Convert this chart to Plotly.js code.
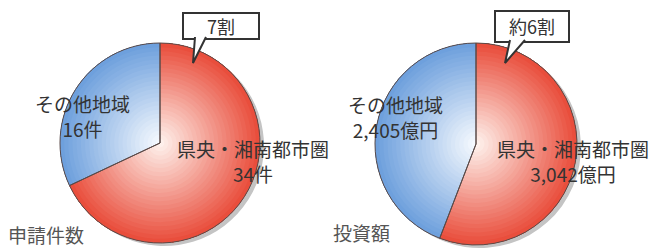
<!DOCTYPE html>
<html><head><meta charset="utf-8">
<script src="https://cdn.plot.ly/plotly-3.0.1.min.js"></script>
<style>html,body{margin:0;padding:0;background:#fff;}#chart{width:655px;height:248px;}</style>
</head><body><div id="chart"></div>
<script>
// ---- data ----
const categories = ['県央・湘南都市圏', 'その他地域'];
const applications = [34, 16];            // 申請件数 (件)
const investment = [3042, 2405];          // 投資額 (億円)
const chartTitles = ['申請件数', '投資額'];
const units = ['件', '億円'];
const callouts = ['7割', '約6割'];

// ---- layout helpers (pixel -> paper) ----
const W = 655, H = 248;
const px = x => x / W;
const py = y => 1 - y / H;
const FONT = '"Noto Sans CJK JP", "Noto Sans", sans-serif';

const pies = [
  {vals: applications, cx: 160, cy: 143, r: 100},
  {vals: investment, cx: 476, cy: 144, r: 101}
];
const redEdge = [233, 78, 60], redCenter = [254, 240, 235];
const blueEdge = [110, 160, 221], blueCenter = [245, 249, 254];
const mix = (a, b, t) => 'rgb(' + a.map((v, i) => Math.round(v + (b[i] - v) * t)).join(',') + ')';

const traces = [];
const N = 24;
pies.forEach(p => {
  const dom = {x: [px(p.cx - p.r), px(p.cx + p.r)], y: [py(p.cy + p.r), py(p.cy - p.r)]};
  const shDom = {x: [px(p.cx - p.r + 4), px(p.cx + p.r + 4)], y: [py(p.cy + p.r + 3), py(p.cy - p.r + 3)]};
  const base = {type: 'pie', labels: categories, values: p.vals, sort: false, direction: 'clockwise',
    rotation: 0, textinfo: 'none', hoverinfo: 'skip', showlegend: false};
  // soft shadow
  traces.push(Object.assign({}, base, {domain: shDom, marker: {colors: ['#c4c4c4', '#c4c4c4'], line: {width: 0}}}));
  // radial gradient approximated by rings
  for (let i = 0; i < N; i++) {
    const s = i / (N - 1);
    const t = Math.pow(s, 1.0);
    traces.push(Object.assign({}, base, {domain: dom, hole: i / N,
      marker: {colors: [mix(redCenter, redEdge, t), mix(blueCenter, blueEdge, t)], line: {width: 0}}}));
  }
  // outline
  traces.push(Object.assign({}, base, {domain: dom,
    marker: {colors: ['rgba(0,0,0,0)', 'rgba(0,0,0,0)'], line: {color: '#5a4a48', width: 1}}}));
});

const fmt = v => v.toLocaleString('en-US');
const txt = {size: 19, color: '#333', family: FONT};
const ann = (x, y, text, font, xanchor) => ({xref: 'paper', yref: 'paper', x: px(x), y: py(y), text,
  showarrow: false, font, xanchor: xanchor || 'center', yanchor: 'middle', align: 'center'});

const annotations = [
  ann(82, 116, categories[1] + '<br>' + fmt(applications[1]) + units[0], txt),
  ann(253, 161, categories[0] + '<br>' + fmt(applications[0]) + units[0], txt),
  ann(395, 117, categories[1] + '<br>' + fmt(investment[1]) + units[1], txt),
  ann(573, 161, categories[0] + '<br>' + fmt(investment[0]) + units[1], txt),
  ann(6, 234, chartTitles[0], {size: 19, color: '#555', family: FONT}, 'left'),
  ann(331, 232, chartTitles[1], {size: 19, color: '#555', family: FONT}, 'left'),
  ann(221, 26, callouts[0], {size: 18, color: '#333', family: FONT}),
  ann(532, 26, callouts[1], {size: 18, color: '#333', family: FONT})
];

const boxLine = {color: '#333', width: 2};
const rect = (x0, y0, x1, y1) => ({type: 'rect', xref: 'paper', yref: 'paper', x0: px(x0), x1: px(x1),
  y0: py(y1), y1: py(y0), fillcolor: '#fff', line: boxLine, layer: 'above'});
const tail = (a, b, y, tx, ty) => ({type: 'path', xref: 'paper', yref: 'paper', layer: 'above',
  path: `M ${px(a)},${py(y - 2)} L ${px(tx)},${py(ty)} L ${px(b)},${py(y - 2)}`,
  fillcolor: '#fff', line: boxLine});

const shapes = [
  rect(183, 13, 259, 39), tail(195, 206, 39, 193, 63),
  rect(495, 11, 569, 42), tail(510, 525, 42, 505, 63)
];

Plotly.newPlot('chart', traces, {
  width: W, height: H, margin: {l: 0, r: 0, t: 0, b: 0},
  paper_bgcolor: '#fff', plot_bgcolor: '#fff',
  annotations, shapes
}, {displayModeBar: false, staticPlot: true});
</script></body></html>
